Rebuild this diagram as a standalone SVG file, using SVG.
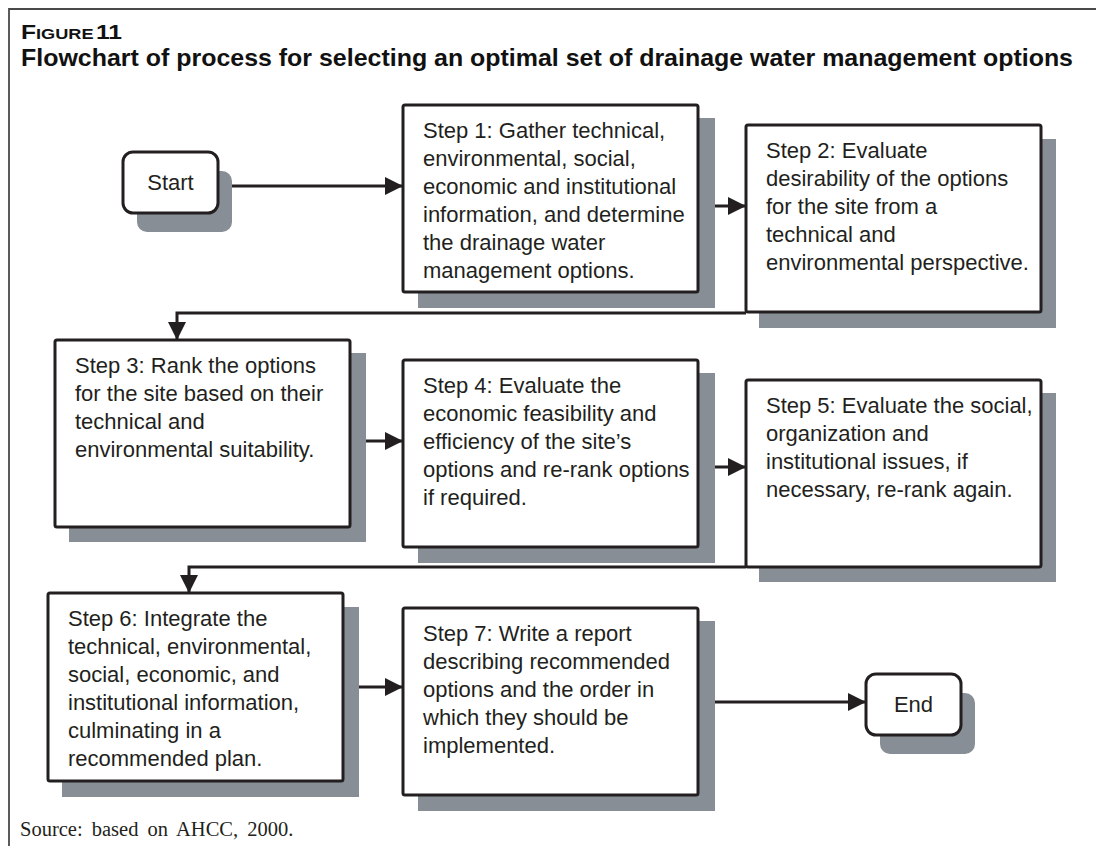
<svg xmlns="http://www.w3.org/2000/svg" width="1096" height="846" viewBox="0 0 1096 846">
<defs>
<style>
.box{fill:#fff;stroke:#231f20;stroke-width:3}
.sh{fill:#878e95}
.t{font-family:"Liberation Sans",Arial,sans-serif;font-size:22px;fill:#231f20}
.conn{fill:none;stroke:#231f20;stroke-width:3}
.hd{font-family:"Liberation Sans",Arial,sans-serif;font-weight:bold;fill:#111}
</style>
<marker id="ah" markerUnits="userSpaceOnUse" markerWidth="18" markerHeight="18" refX="18" refY="9" orient="auto">
<path d="M0,0 L18,9 L0,18 Z" fill="#231f20"/>
</marker>
</defs>
<rect width="1096" height="846" fill="#fff"/>
<path d="M9,846 V9 H1096" fill="none" stroke="#4a4a4a" stroke-width="1.8"/>
<text class="hd" x="21" y="39" textLength="101" lengthAdjust="spacingAndGlyphs"><tspan font-size="21">F</tspan><tspan font-size="15.5">IGURE</tspan><tspan font-size="21" dx="2">11</tspan></text>
<text class="hd" x="21" y="66" font-size="24" textLength="1052" lengthAdjust="spacingAndGlyphs">Flowchart of process for selecting an optimal set of drainage water management options</text>

<g id="connectors">
<path class="conn" d="M218,186 H403" marker-end="url(#ah)"/>
<path class="conn" d="M698,206 H746" marker-end="url(#ah)"/>
<path class="conn" d="M746,313 H177 V340" marker-end="url(#ah)"/>
<path class="conn" d="M350,441 H403" marker-end="url(#ah)"/>
<path class="conn" d="M698,467 H746" marker-end="url(#ah)"/>
<path class="conn" d="M746,567 H189 V593" marker-end="url(#ah)"/>
<path class="conn" d="M343,687 H403" marker-end="url(#ah)"/>
<path class="conn" d="M698,702 H866" marker-end="url(#ah)"/>
</g>

<g id="start">
<rect class="sh" x="137" y="171" width="95" height="61" rx="10"/>
<rect class="box" x="123" y="152" width="95" height="61" rx="10"/>
<text class="t" x="170.5" y="190" text-anchor="middle">Start</text>
</g>

<g id="step1">
<rect class="sh" x="418" y="118" width="297" height="190"/>
<rect class="box" x="403" y="105" width="295" height="187" rx="2"/>
<text class="t"><tspan x="423" y="138">Step 1: Gather technical,</tspan><tspan x="423" y="166">environmental, social,</tspan><tspan x="423" y="194">economic and institutional</tspan><tspan x="423" y="222">information, and determine</tspan><tspan x="423" y="250">the drainage water</tspan><tspan x="423" y="278">management options.</tspan></text>
</g>

<g id="step2">
<rect class="sh" x="759" y="139" width="297" height="189"/>
<rect class="box" x="746" y="125" width="295" height="187" rx="2"/>
<text class="t"><tspan x="766" y="158">Step 2: Evaluate</tspan><tspan x="766" y="186">desirability of the options</tspan><tspan x="766" y="214">for the site from a</tspan><tspan x="766" y="242">technical and</tspan><tspan x="766" y="270">environmental perspective.</tspan></text>
</g>

<g id="step3">
<rect class="sh" x="69" y="353" width="297" height="189"/>
<rect class="box" x="55" y="340" width="295" height="187" rx="2"/>
<text class="t"><tspan x="75" y="373">Step 3: Rank the options</tspan><tspan x="75" y="401">for the site based on their</tspan><tspan x="75" y="429">technical and</tspan><tspan x="75" y="457">environmental suitability.</tspan></text>
</g>

<g id="step4">
<rect class="sh" x="418" y="373" width="297" height="190"/>
<rect class="box" x="403" y="360" width="295" height="187" rx="2"/>
<text class="t"><tspan x="423" y="393">Step 4: Evaluate the</tspan><tspan x="423" y="421">economic feasibility and</tspan><tspan x="423" y="449">efficiency of the site’s</tspan><tspan x="423" y="477">options and re-rank options</tspan><tspan x="423" y="505">if required.</tspan></text>
</g>

<g id="step5">
<rect class="sh" x="759" y="393" width="297" height="189"/>
<rect class="box" x="746" y="380" width="295" height="187" rx="2"/>
<text class="t"><tspan x="766" y="413">Step 5: Evaluate the social,</tspan><tspan x="766" y="441">organization and</tspan><tspan x="766" y="469">institutional issues, if</tspan><tspan x="766" y="497">necessary, re-rank again.</tspan></text>
</g>

<g id="step6">
<rect class="sh" x="62" y="607" width="297" height="190"/>
<rect class="box" x="48" y="593" width="295" height="188" rx="2"/>
<text class="t"><tspan x="68" y="626">Step 6: Integrate the</tspan><tspan x="68" y="654">technical, environmental,</tspan><tspan x="68" y="682">social, economic, and</tspan><tspan x="68" y="710">institutional information,</tspan><tspan x="68" y="738">culminating in a</tspan><tspan x="68" y="766">recommended plan.</tspan></text>
</g>

<g id="step7">
<rect class="sh" x="418" y="621" width="297" height="190"/>
<rect class="box" x="403" y="608" width="295" height="187" rx="2"/>
<text class="t"><tspan x="423" y="641">Step 7: Write a report</tspan><tspan x="423" y="669">describing recommended</tspan><tspan x="423" y="697">options and the order in</tspan><tspan x="423" y="725">which they should be</tspan><tspan x="423" y="753">implemented.</tspan></text>
</g>

<g id="end">
<rect class="sh" x="880" y="693" width="95" height="61" rx="10"/>
<rect class="box" x="866" y="674" width="95" height="61" rx="10"/>
<text class="t" x="913.5" y="712" text-anchor="middle">End</text>
</g>

<text x="20" y="836" font-family="'Liberation Serif','Times New Roman',serif" font-size="20.5" word-spacing="4" fill="#231f20">Source: based on AHCC, 2000.</text>
</svg>
